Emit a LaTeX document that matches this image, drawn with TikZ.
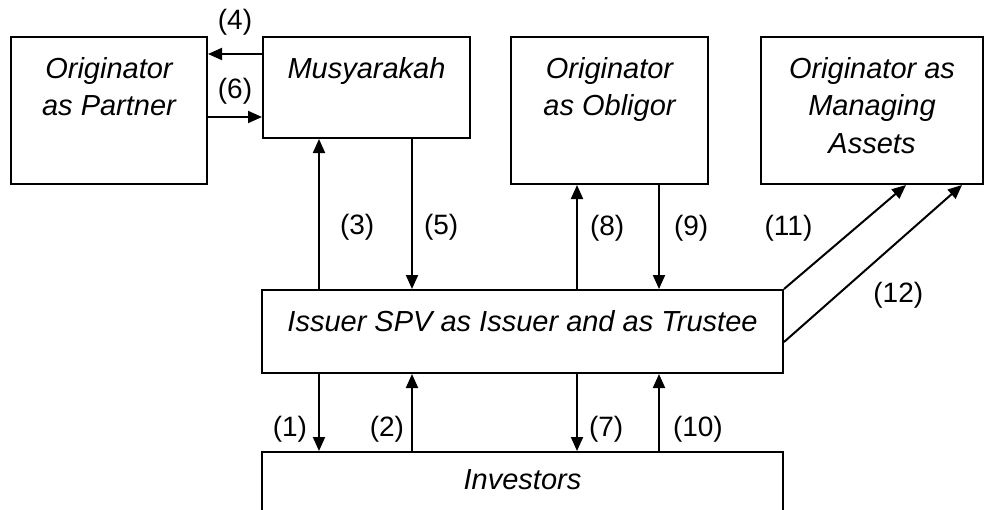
\documentclass[tikz,border=0pt]{standalone}
\usepackage{fontspec}
\setmainfont{Liberation Sans}
\usetikzlibrary{arrows.meta,positioning}

\begin{document}
\begin{tikzpicture}[
    >={Triangle[length=7pt,width=6pt]},
    line width=1pt,
    party/.style={draw, rectangle, inner sep=0pt, minimum height=73.5pt},
    partytext/.style={anchor=north, align=center, inner sep=0pt, yshift=-10pt, font=\fontsize{14.5}{18.75}\selectfont\itshape},
    lbl/.style={inner sep=0pt, font=\fontsize{14}{16}\selectfont}
]
\useasboundingbox (0,0) rectangle (492.5pt,-254.5pt);

\node[party, minimum width=98pt, anchor=north west, label={[partytext]north:{Originator\\as Partner}}] (partner) at (5pt,-18pt) {};
\node[party, minimum width=103.5pt, minimum height=50.5pt, right=27pt of partner.north east, anchor=north west, label={[partytext]north:{Musyarakah}}] (musy) {};
\node[party, minimum width=98.5pt, right=19.5pt of musy.north east, anchor=north west, label={[partytext]north:{Originator\\as Obligor}}] (obligor) {};
\node[party, minimum width=111pt, right=25.5pt of obligor.north east, anchor=north west, label={[partytext]north:{Originator as\\Managing\\Assets}}] (assets) {};
\node[party, minimum width=260.5pt, minimum height=41.5pt, below=75pt of musy.south west, anchor=north west, xshift=-0.5pt, label={[partytext]north:{Issuer SPV as Issuer and as Trustee}}] (issuer) {};
\node[party, minimum width=260.5pt, minimum height=60pt, below=38.5pt of issuer.south west, anchor=north west, label={[partytext, yshift=1pt]north:{Investors}}] (inv) {};

% partner <-> musyarakah
\draw[->] ([yshift=-9pt]musy.north west) coordinate (a4) -- (a4 -| partner.east) node[lbl, midway, above=8.75pt] {(4)};
\draw[->] ([yshift=-40.5pt]partner.north east) coordinate (a6) -- (a6 -| musy.west) node[lbl, midway, above=5.75pt] {(6)};

% issuer -> top row
\draw[->] ([xshift=29pt]issuer.north west) coordinate (a3) -- (a3 |- musy.south) node[lbl, pos=0.41, right=10pt] {(3)};
\draw[<-] ([xshift=75.5pt]issuer.north west) coordinate (a5) -- (a5 |- musy.south) node[lbl, pos=0.41, right=5.5pt] {(5)};
\draw[->] ([xshift=158pt]issuer.north west) coordinate (a8) -- (a8 |- obligor.south) node[lbl, pos=0.585, right=6pt] {(8)};
\draw[<-] ([xshift=199pt]issuer.north west) coordinate (a9) -- (a9 |- obligor.south) node[lbl, pos=0.585, right=7pt] {(9)};
\draw[->] (issuer.north east) -- ([xshift=73pt]assets.south west) node[lbl, pos=0.585, left=21pt] {(11)};
\draw[->] ([yshift=-26.5pt]issuer.north east) -- ([xshift=101pt]assets.south west) node[lbl, pos=0.3, right=17.5pt] {(12)};

% issuer <-> investors
\draw[->] ([xshift=29pt]issuer.south west) coordinate (a1) -- (a1 |- inv.north) node[lbl, pos=0.72, left=5.5pt] {(1)};
\draw[<-] ([xshift=75.5pt]issuer.south west) coordinate (a2) -- (a2 |- inv.north) node[lbl, pos=0.72, left=3.5pt] {(2)};
\draw[->] ([xshift=158pt]issuer.south west) coordinate (a7) -- (a7 |- inv.north) node[lbl, pos=0.72, right=5.5pt] {(7)};
\draw[<-] ([xshift=199pt]issuer.south west) coordinate (a10) -- (a10 |- inv.north) node[lbl, pos=0.72, right=6.5pt] {(10)};
\end{tikzpicture}
\end{document}
